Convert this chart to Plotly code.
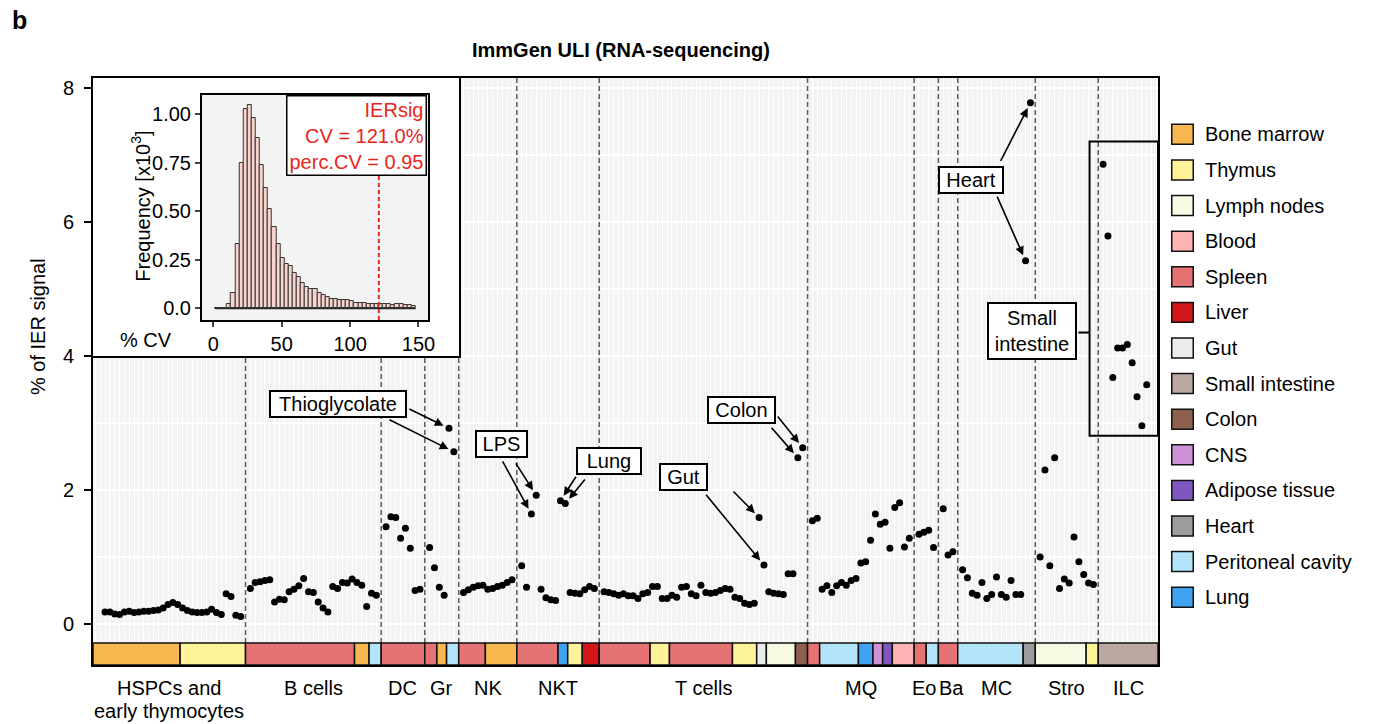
import plotly.graph_objects as go

# ---------------- data ----------------
group_labels = ["HSPCs and<br>early thymocytes", "B cells", "DC", "Gr", "NK", "NKT",
                "T cells", "MQ", "Eo", "Ba", "MC", "Stro", "ILC"]

# % of IER signal per sample, in plotting order within each group
hspc = [0.18, 0.18, 0.15, 0.14, 0.18, 0.19, 0.17, 0.18, 0.19, 0.19,
        0.20, 0.21, 0.24, 0.29, 0.32, 0.29, 0.24, 0.20, 0.18, 0.17,
        0.17, 0.18, 0.22, 0.17, 0.14, 0.45, 0.41, 0.13, 0.11]
b_cells = [0.53, 0.62, 0.63, 0.65, 0.66, 0.33, 0.37, 0.36, 0.48, 0.52,
           0.57, 0.68, 0.48, 0.47, 0.33, 0.24, 0.18, 0.56, 0.53, 0.62,
           0.61, 0.67, 0.62, 0.58, 0.26, 0.46, 0.43]
dc = [1.45, 1.60, 1.59, 1.28, 1.43, 1.13, 0.50, 0.52]
gr = [1.14, 0.84, 0.55, 0.43, 2.92, 2.57]
nk = [0.47, 0.51, 0.55, 0.57, 0.58, 0.52, 0.53, 0.56, 0.58, 0.62, 0.66]
nkt = [0.87, 0.55, 1.64, 1.92, 0.52, 0.39, 0.36, 0.35, 1.84, 1.80,
       0.47, 0.46, 0.45, 0.51, 0.56, 0.53]
t_cells = [0.48, 0.47, 0.45, 0.43, 0.45, 0.42, 0.42, 0.38, 0.45, 0.47,
           0.56, 0.56, 0.38, 0.38, 0.43, 0.40, 0.55, 0.56, 0.45, 0.42,
           0.58, 0.47, 0.46, 0.47, 0.50, 0.53, 0.52, 0.40, 0.38, 0.31,
           0.29, 0.31, 1.59, 0.88, 0.48, 0.46, 0.45, 0.44, 0.75, 0.75,
           2.48, 2.63]
mq = [1.54, 1.58, 0.52, 0.57, 0.47, 0.57, 0.62, 0.58, 0.65, 0.68,
      0.91, 0.93, 1.25, 1.64, 1.49, 1.52, 1.13, 1.74, 1.81, 1.15, 1.28]
eo = [1.34, 1.37, 1.40, 1.14]
ba = [1.72, 1.03, 1.08]
mc = [0.81, 0.69, 0.46, 0.43, 0.62, 0.38, 0.44, 0.70, 0.44, 0.40,
      0.65, 0.44, 0.44, 5.42, 7.78]
stro = [1.00, 2.30, 0.87, 2.48, 0.53, 0.67, 0.61, 1.30, 0.93, 0.74, 0.61, 0.59]
ilc = [6.86, 5.79, 3.68, 4.12, 4.12, 4.17, 3.90, 3.39, 2.96, 3.57]

group_values = [hspc, b_cells, dc, gr, nk, nkt, t_cells, mq, eo, ba, mc, stro, ilc]

# tissue of origin, as consecutive runs (tissue, number of samples) per group
hspc_tissue = [("Bone marrow", 16), ("Thymus", 13)]
b_tissue = [("Spleen", 22), ("Bone marrow", 3), ("Peritoneal cavity", 2)]
dc_tissue = [("Spleen", 8)]
gr_tissue = [("Spleen", 2), ("Bone marrow", 2), ("Peritoneal cavity", 2)]
nk_tissue = [("Spleen", 5), ("Bone marrow", 6)]
nkt_tissue = [("Spleen", 8), ("Lung", 2), ("Thymus", 3), ("Liver", 3)]
t_tissue = [("Spleen", 10), ("Thymus", 4), ("Spleen", 13), ("Thymus", 5),
            ("Gut", 2), ("Lymph nodes", 6), ("Colon", 2)]
mq_tissue = [("Spleen", 2), ("Peritoneal cavity", 8), ("Lung", 3), ("CNS", 2),
             ("Adipose tissue", 2), ("Blood", 4)]
eo_tissue = [("Spleen", 2), ("Peritoneal cavity", 2)]
ba_tissue = [("Spleen", 3)]
mc_tissue = [("Peritoneal cavity", 13), ("Heart", 2)]
stro_tissue = [("Lymph nodes", 10), ("Thymus", 2)]
ilc_tissue = [("Small intestine", 10)]

group_tissues = [hspc_tissue, b_tissue, dc_tissue, gr_tissue, nk_tissue, nkt_tissue,
                 t_tissue, mq_tissue, eo_tissue, ba_tissue, mc_tissue, stro_tissue,
                 ilc_tissue]

tissue_names = ["Bone marrow", "Thymus", "Lymph nodes", "Blood", "Spleen", "Liver",
                "Gut", "Small intestine", "Colon", "CNS", "Adipose tissue", "Heart",
                "Peritoneal cavity", "Lung"]
tissue_colors = ["#F9B84F", "#FFF39A", "#F8F9E3", "#FFB4B4", "#E67373", "#D3161A",
                 "#EBEBEB", "#BBA9A1", "#8E5E4E", "#CC91D6", "#7E58BE", "#9D9D9D",
                 "#B3E4FA", "#3FA3F2"]
tissue_color = dict(zip(tissue_names, tissue_colors))

# inset: distribution of % CV across gene signatures (frequency in thousands)
cv_bin_start = list(range(1, 148, 3))
bin_w = 3
cv_freq_k = [0, 0, 0, 0.02, 0.08, 0.33, 0.75, 1.03, 1.05, 0.98,
             0.88, 0.74, 0.62, 0.51, 0.42, 0.33, 0.26, 0.23, 0.22, 0.18,
             0.16, 0.13, 0.11, 0.10, 0.10, 0.08, 0.07, 0.06, 0.05, 0.05,
             0.045, 0.045, 0.045, 0.04, 0.03, 0.03, 0.03, 0.025, 0.025, 0.02,
             0.025, 0.02, 0.02, 0.015, 0.02, 0.02, 0.015, 0.015, 0.01]
ier_cv = 121.0
ier_perc_cv = 0.95

assert all(sum(n for _, n in tr) == len(v) for tr, v in zip(group_tissues, group_values))
assert len(cv_freq_k) == len(cv_bin_start)

# ---------------- sample positions ----------------
# one empty slot separates neighbouring groups; the dashed line sits in it
slot_of, gaps = [], []
s = 0
for gi, vals in enumerate(group_values):
    if gi:
        gaps.append(s)
        s += 1
    slot_of.append(list(range(s, s + len(vals))))
    s += len(vals)

x_lo, x_hi = -2.48, slot_of[-1][-1] + 2.33
y_lo, y_hi = -0.612, 8.149
bar_top = -0.284
edges = [x_lo] + gaps + [x_hi]

FONT = "Liberation Sans, Arial, sans-serif"
fig = go.Figure()

# dashed separators between cell-type groups
for g in gaps:
    fig.add_trace(go.Scatter(x=[g, g], y=[bar_top, y_hi], mode="lines",
                             line=dict(color="#5c5c5c", width=1.5, dash="5px,3px"),
                             hoverinfo="skip", showlegend=False))

# samples
xs = [x for sl in slot_of for x in sl]
ys = [v for vals in group_values for v in vals]
fig.add_trace(go.Scatter(x=xs, y=ys, mode="markers",
                         marker=dict(color="black", size=7),
                         showlegend=False))

# white panel holding the inset
fig.add_trace(go.Scatter(x=[0, 1, 1, 0, 0], y=[0, 0, 1, 1, 0], fill="toself",
                         fillcolor="white", mode="lines",
                         line=dict(width=0, color="white"),
                         xaxis="x2", yaxis="y2", hoverinfo="skip", showlegend=False))

# inset histogram
fig.add_trace(go.Scatter(x=[cv_bin_start[0], cv_bin_start[-1] + bin_w], y=[0, 0],
                         mode="lines", line=dict(color="#2a2a2a", width=1.5),
                         xaxis="x3", yaxis="y3", hoverinfo="skip", showlegend=False))
fig.add_trace(go.Bar(x=[b + bin_w / 2 for b in cv_bin_start], y=cv_freq_k, width=bin_w,
                     marker=dict(color="#F8D4CC", line=dict(color="#333333", width=1)),
                     xaxis="x3", yaxis="y3", showlegend=False))
fig.add_trace(go.Scatter(x=[ier_cv, ier_cv], y=[-0.06, 1.10], mode="lines",
                         line=dict(color="#E8261C", width=2, dash="4px,3px"),
                         xaxis="x3", yaxis="y3", hoverinfo="skip", showlegend=False))

shapes = []
# tissue colour strip under the samples
for gi, runs in enumerate(group_tissues):
    n = len(group_values[gi])
    a = 0
    for tissue, cnt in runs:
        b = a + cnt
        left = edges[gi] if a == 0 else slot_of[gi][a] - 0.5
        right = edges[gi + 1] if b == n else slot_of[gi][b - 1] + 0.5
        shapes.append(dict(type="rect", xref="x", yref="y", x0=left, x1=right,
                           y0=y_lo, y1=bar_top, fillcolor=tissue_color[tissue],
                           line=dict(color="#111111", width=1.5), layer="above"))
        a = b

# frame around the ILC samples and its label connector
shapes.append(dict(type="rect", xref="x", yref="y", x0=203.2, x1=x_hi, y0=2.81, y1=7.20,
                   line=dict(color="black", width=2), layer="above"))
shapes.append(dict(type="line", xref="x", yref="y", x0=200.9, x1=203.2, y0=4.35, y1=4.35,
                   line=dict(color="black", width=2), layer="above"))

annotations = []

# callout boxes with arrows pointing at samples
callouts = [
    ("Thioglycolate", (48.1, 3.28), 132, 22, [((62.5, 3.22), 3, 4), ((58.4, 3.06), 3, 5)]),
    ("LPS", (81.9, 2.69), 47, 22, [((81.9, 2.45), 5, 2), ((84.6, 2.42), 5, 3)]),
    ("Lung", (104.0, 2.43), 60, 22, [((97.4, 2.22), 5, 8), ((99.3, 2.18), 5, 9)]),
    ("Gut", (119.3, 2.20), 43, 22, [((129.4, 2.00), 6, 32), ((123.8, 1.95), 6, 33)]),
    ("Colon", (131.3, 3.20), 63, 22, [((138.6, 3.12), 6, 41), ((137.3, 2.95), 6, 40)]),
    ("Heart", (178.7, 6.63), 60, 22, [((184.7, 6.89), 10, 14), ((184.0, 6.40), 10, 13)]),
    ("Small<br>intestine", (191.3, 4.37), 84, 52, []),
]
for text, (cx, cy), w, h, arrows in callouts:
    for (tx, ty), gi, pi in arrows:
        annotations.append(dict(x=slot_of[gi][pi], y=group_values[gi][pi], xref="x", yref="y",
                                ax=tx, ay=ty, axref="x", ayref="y", text="",
                                showarrow=True, arrowhead=2, arrowsize=1.1, arrowwidth=1.6,
                                arrowcolor="black", standoff=6))
    annotations.append(dict(x=cx, y=cy, xref="x", yref="y", text=text, showarrow=False,
                            width=w, height=h, bgcolor="white", bordercolor="black",
                            borderwidth=2, borderpad=1, font=dict(size=20)))

# group names under the colour strip (the first one spans two lines)
label_shift = {"Eo": -2, "Ba": 3}
for gi, lab in enumerate(group_labels):
    xc = (edges[gi] + edges[gi + 1]) / 2
    lines = lab.split("<br>")
    for li, line in enumerate(lines):
        annotations.append(dict(x=xc, y=-0.0392 - 0.0392 * li, xref="x", yref="paper",
                                text=line, showarrow=False, xanchor="center",
                                yanchor="middle", xshift=label_shift.get(line, 0),
                                font=dict(size=20)))

# inset texts
annotations.append(dict(x=0.995, y=1.0, xref="x3 domain", yref="y3 domain",
                        xanchor="right", yanchor="top", align="right", showarrow=False,
                        text=f"IERsig<br>CV = {ier_cv:.1f}%<br>perc.CV = {ier_perc_cv:.2f}",
                        font=dict(size=20, color="#E8261C"), bgcolor="white",
                        bordercolor="black", borderwidth=1.5, borderpad=2))
annotations.append(dict(x=0.0451, y=0.7808, xref="paper", yref="paper", textangle=-90,
                        xanchor="center", yanchor="middle",
                        text="Frequency [x10<sup>3</sup>]", showarrow=False, font=dict(size=20)))
annotations.append(dict(x=0.0496, y=0.5537, xref="paper", yref="paper",
                        xanchor="center", yanchor="middle",
                        text="% CV", showarrow=False, font=dict(size=20)))

# titles
annotations.append(dict(x=0.4958, y=1.0477, xref="paper", yref="paper", showarrow=False,
                        xanchor="center", yanchor="middle",
                        text="<b>ImmGen ULI (RNA-sequencing)</b>", font=dict(size=20)))
annotations.append(dict(x=-0.0779, y=1.0988, xref="paper", yref="paper", xanchor="left",
                        yanchor="middle", showarrow=False, text="<b>b</b>", font=dict(size=25)))
annotations.append(dict(x=-0.0516, y=0.5758, xref="paper", yref="paper", textangle=-90,
                        xanchor="center", yanchor="middle",
                        showarrow=False, text="% of IER signal", font=dict(size=20)))

# tissue legend
legend_top, legend_step, half_h = 0.9040, 0.06065, 0.0170
for k, (name, col) in enumerate(zip(tissue_names, tissue_colors)):
    yc = legend_top - k * legend_step
    shapes.append(dict(type="rect", xref="paper", yref="paper", x0=1.0129, x1=1.0331,
                       y0=yc - half_h, y1=yc + half_h, fillcolor=col,
                       line=dict(color="#111111", width=1.5), layer="above"))
    annotations.append(dict(x=1.0423, y=yc, xref="paper", yref="paper", xanchor="left",
                            yanchor="middle", text=name, showarrow=False, font=dict(size=20)))

fig.update_layout(
    width=1386, height=724, autosize=False,
    margin=dict(l=93, r=228, t=78, b=59),
    paper_bgcolor="white", plot_bgcolor="#F3F3F3",
    font=dict(family=FONT, size=20, color="black"),
    showlegend=False, bargap=0,
    shapes=shapes, annotations=annotations,
    xaxis=dict(domain=[0, 1], range=[x_lo, x_hi], showticklabels=False, ticks="",
               tickmode="linear", tick0=0, dtick=1, showgrid=True, gridcolor="white",
               gridwidth=1, zeroline=False, showline=True, mirror=True,
               linecolor="black", linewidth=2),
    yaxis=dict(domain=[0, 1], range=[y_lo, y_hi], tickmode="linear", tick0=0, dtick=2,
               ticks="outside", ticklen=7, tickwidth=1.5, tickcolor="black",
               ticklabelstandoff=6,
               showgrid=True, gridcolor="white", gridwidth=1.5,
               minor=dict(dtick=1, showgrid=True, gridcolor="white", gridwidth=1.5),
               zeroline=False, showline=True, mirror=True, linecolor="black", linewidth=2,
               tickfont=dict(size=20)),
    xaxis2=dict(domain=[0, 0.3437], range=[0, 1], anchor="y2", showgrid=False,
                showticklabels=False, ticks="", zeroline=False, showline=True,
                mirror=True, linecolor="black", linewidth=2),
    yaxis2=dict(domain=[0.5264, 1], range=[0, 1], anchor="x2", showgrid=False,
                showticklabels=False, ticks="", zeroline=False, showline=True,
                mirror=True, linecolor="black", linewidth=2),
    xaxis3=dict(domain=[0.1021, 0.3146], range=[-8.5, 157], anchor="y3",
                tickvals=[0, 50, 100, 150], ticks="outside", ticklen=5, tickwidth=1.5,
                showgrid=False, zeroline=False, showline=True, mirror=True,
                linecolor="black", linewidth=1.5, tickfont=dict(size=20)),
    yaxis3=dict(domain=[0.5877, 0.971], range=[-0.06, 1.10], anchor="x3",
                tickvals=[0, 0.25, 0.5, 0.75, 1.0],
                ticktext=["0.0", "0.25", "0.50", "0.75", "1.00"],
                ticks="outside", ticklen=5, tickwidth=1.5,
                showgrid=False, zeroline=False, showline=True, mirror=True,
                linecolor="black", linewidth=1.5, tickfont=dict(size=20)),
)

fig.write_html("out.html")
